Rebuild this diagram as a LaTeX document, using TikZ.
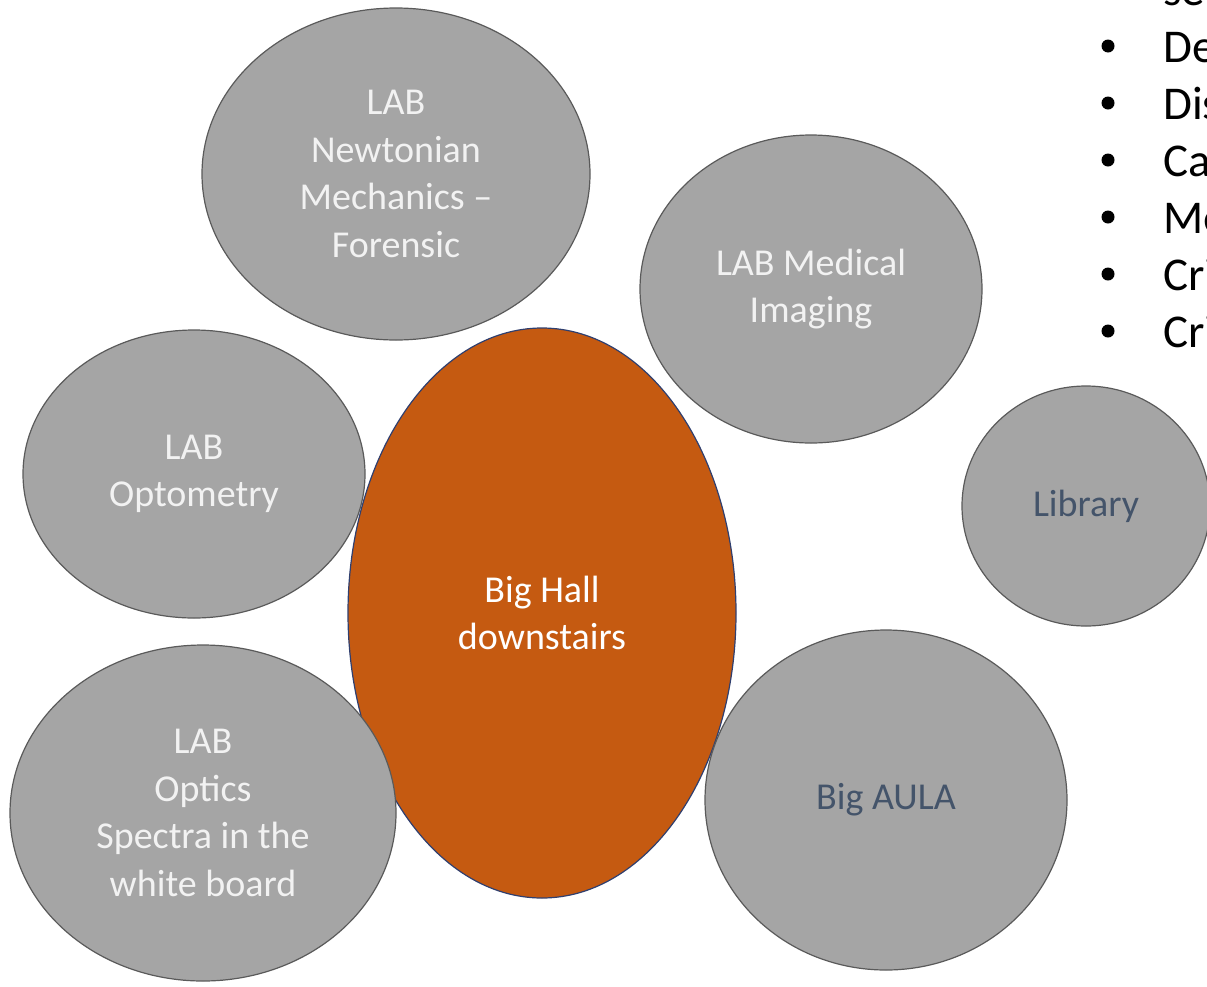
\documentclass[tikz,border=0pt]{standalone}
\usepackage{fontspec}
\setmainfont{Carlito}
\usetikzlibrary{shapes.geometric}

\definecolor{roomgrey}{HTML}{A5A5A5}
\definecolor{roomline}{HTML}{5A5A5A}
\definecolor{hallorange}{HTML}{C55A11}
\definecolor{hallline}{HTML}{2F3F6F}
\definecolor{darktext}{HTML}{44546A}

\tikzset{
    room/.style={ellipse,draw=roomline,fill=roomgrey,line width=1.2pt,inner sep=0pt,
        align=center,text=white!95!black,font=\fontsize{38}{47.5}\selectfont},
    hall/.style={room,draw=hallline,fill=hallorange,text=white},
    listitem/.style={anchor=base west,inner sep=0pt,font=\fontsize{47}{57}\selectfont},
}

\begin{document}
\begin{tikzpicture}[x=1pt,y=-1pt]
            % \draw[help lines] grid(1207,986);
            \useasboundingbox (0,0) rectangle (1207,986);
            \clip (0,0) rectangle (1207,986);

            \node[room,minimum width=388,minimum height=332] (newton) at (396,174) {LAB\\Newtonian\\Mechanics --\\Forensic};
            \node[room,minimum width=342,minimum height=308] (medical) at (811,289) {LAB Medical\\Imaging};
            \node[room,minimum width=342,minimum height=288] (optometry) at (194,474) {LAB\\Optometry};
            \node[hall,minimum width=388,minimum height=570] (hall) at (542,613) {Big Hall\\downstairs};
            \node[room,minimum width=386,minimum height=336] (optics) at (203,813) {LAB\\Optics\\Spectra in the\\white board};
            \node[room,minimum width=362,minimum height=340,text=darktext] (aula) at (886,800) {Big AULA};
            \node[room,minimum width=248,minimum height=240,text=darktext] (library) at (1086,506) {Library};

            % list on the right, cut off by the page edge
            \node[listitem] (item0) at (1163,5) {se};
            \foreach \y/\t [count=\i] in {62/De,119/Dis,176/Ca,233/Me,290/Cri,347/Cri} {
                \node[listitem] (item\i) at (1163,\y) {\t};
                \fill (1108,\y-16) circle (6.5);
            }
        \end{tikzpicture}
\end{document}
